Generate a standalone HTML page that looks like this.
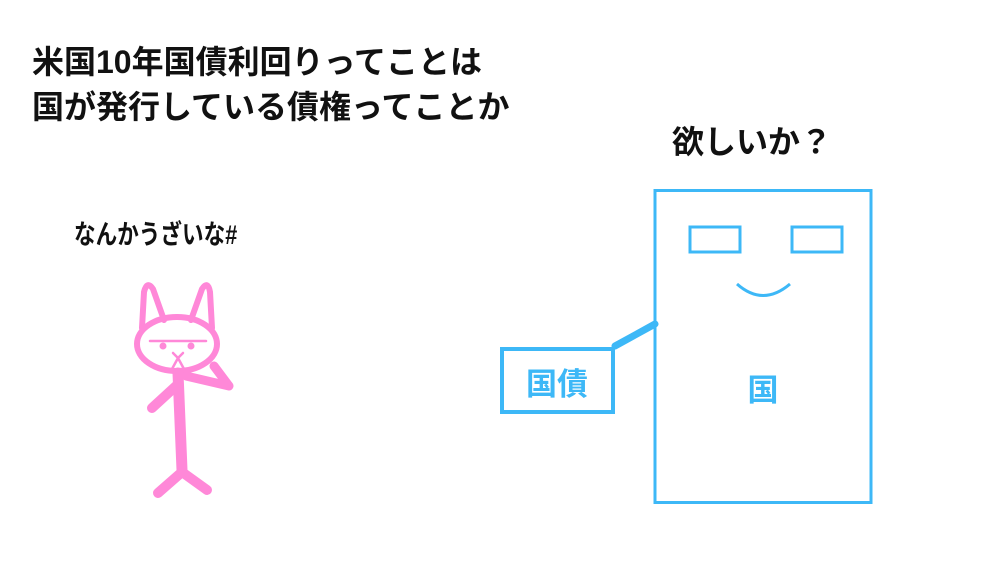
<!DOCTYPE html>
<html><head><meta charset="utf-8"><style>
html,body{margin:0;padding:0;background:#fff;}
body{width:1000px;height:562px;position:relative;overflow:hidden;font-family:"Liberation Sans","Noto Sans CJK JP",sans-serif;font-weight:bold;color:#111;}
.t{position:absolute;white-space:nowrap;line-height:1;}
</style></head><body>
<div class="t" style="left:32px;top:46px;font-size:32px;">米国10年国債利回りってことは</div>
<div class="t" style="left:32px;top:91px;font-size:32px;">国が発行している債権ってことか</div>
<div class="t" style="left:672px;top:126px;font-size:32px;">欲しいか？</div>
<div class="t" style="left:74px;top:222px;font-size:27px;transform:scaleX(0.8);transform-origin:0 0;">なんかうざいな#</div>
<svg width="1000" height="562" style="position:absolute;left:0;top:0">
 <g fill="none" stroke="#ff88d8" stroke-linecap="round" stroke-linejoin="round">
  <path d="M142 328 L144 292 Q147 280 153 289 L164 320" stroke-width="6"/>
  <path d="M191 320 L202 289 Q208 280 210 292 L212 328" stroke-width="6"/>
  <ellipse cx="177" cy="344" rx="40" ry="27" stroke-width="6"/>
  <line x1="150" y1="341" x2="206" y2="341" stroke-width="2.5"/>
  <path d="M173 353 L178 358 L183 353 M178 358 L172 369 M178 358 L184 369" stroke-width="2.5"/>
  <path d="M178 373 L182 470" stroke-width="11"/>
  <path d="M176 386 L152 408" stroke-width="10"/>
  <path d="M186 376 L229 386 L214 366" stroke-width="9"/>
  <path d="M182 472 L158 493 M182 472 L207 490" stroke-width="10"/>
 </g>
 <circle cx="163" cy="346" r="3.5" fill="#ff88d8"/>
 <circle cx="191" cy="346" r="3.5" fill="#ff88d8"/>
 <g fill="none" stroke="#3db8f7">
  <rect x="655" y="190.5" width="216" height="312" stroke-width="3"/>
  <rect x="690" y="227" width="50" height="25" stroke-width="3"/>
  <rect x="792" y="227" width="50" height="25" stroke-width="3"/>
  <path d="M737 284 Q763 307 790 284" stroke-width="3"/>
  <path d="M615 346 L655 324" stroke-width="7" stroke-linecap="round"/>
  <rect x="502" y="349" width="111" height="63" stroke-width="4"/>
 </g>
 <text x="557" y="395" font-size="31" font-weight="bold" fill="#3db8f7" text-anchor="middle" font-family="Liberation Sans, Noto Sans CJK JP, sans-serif">国債</text>
 <text x="763" y="401" font-size="31" font-weight="bold" fill="#3db8f7" text-anchor="middle" font-family="Liberation Sans, Noto Sans CJK JP, sans-serif">国</text>
</svg>
</body></html>
